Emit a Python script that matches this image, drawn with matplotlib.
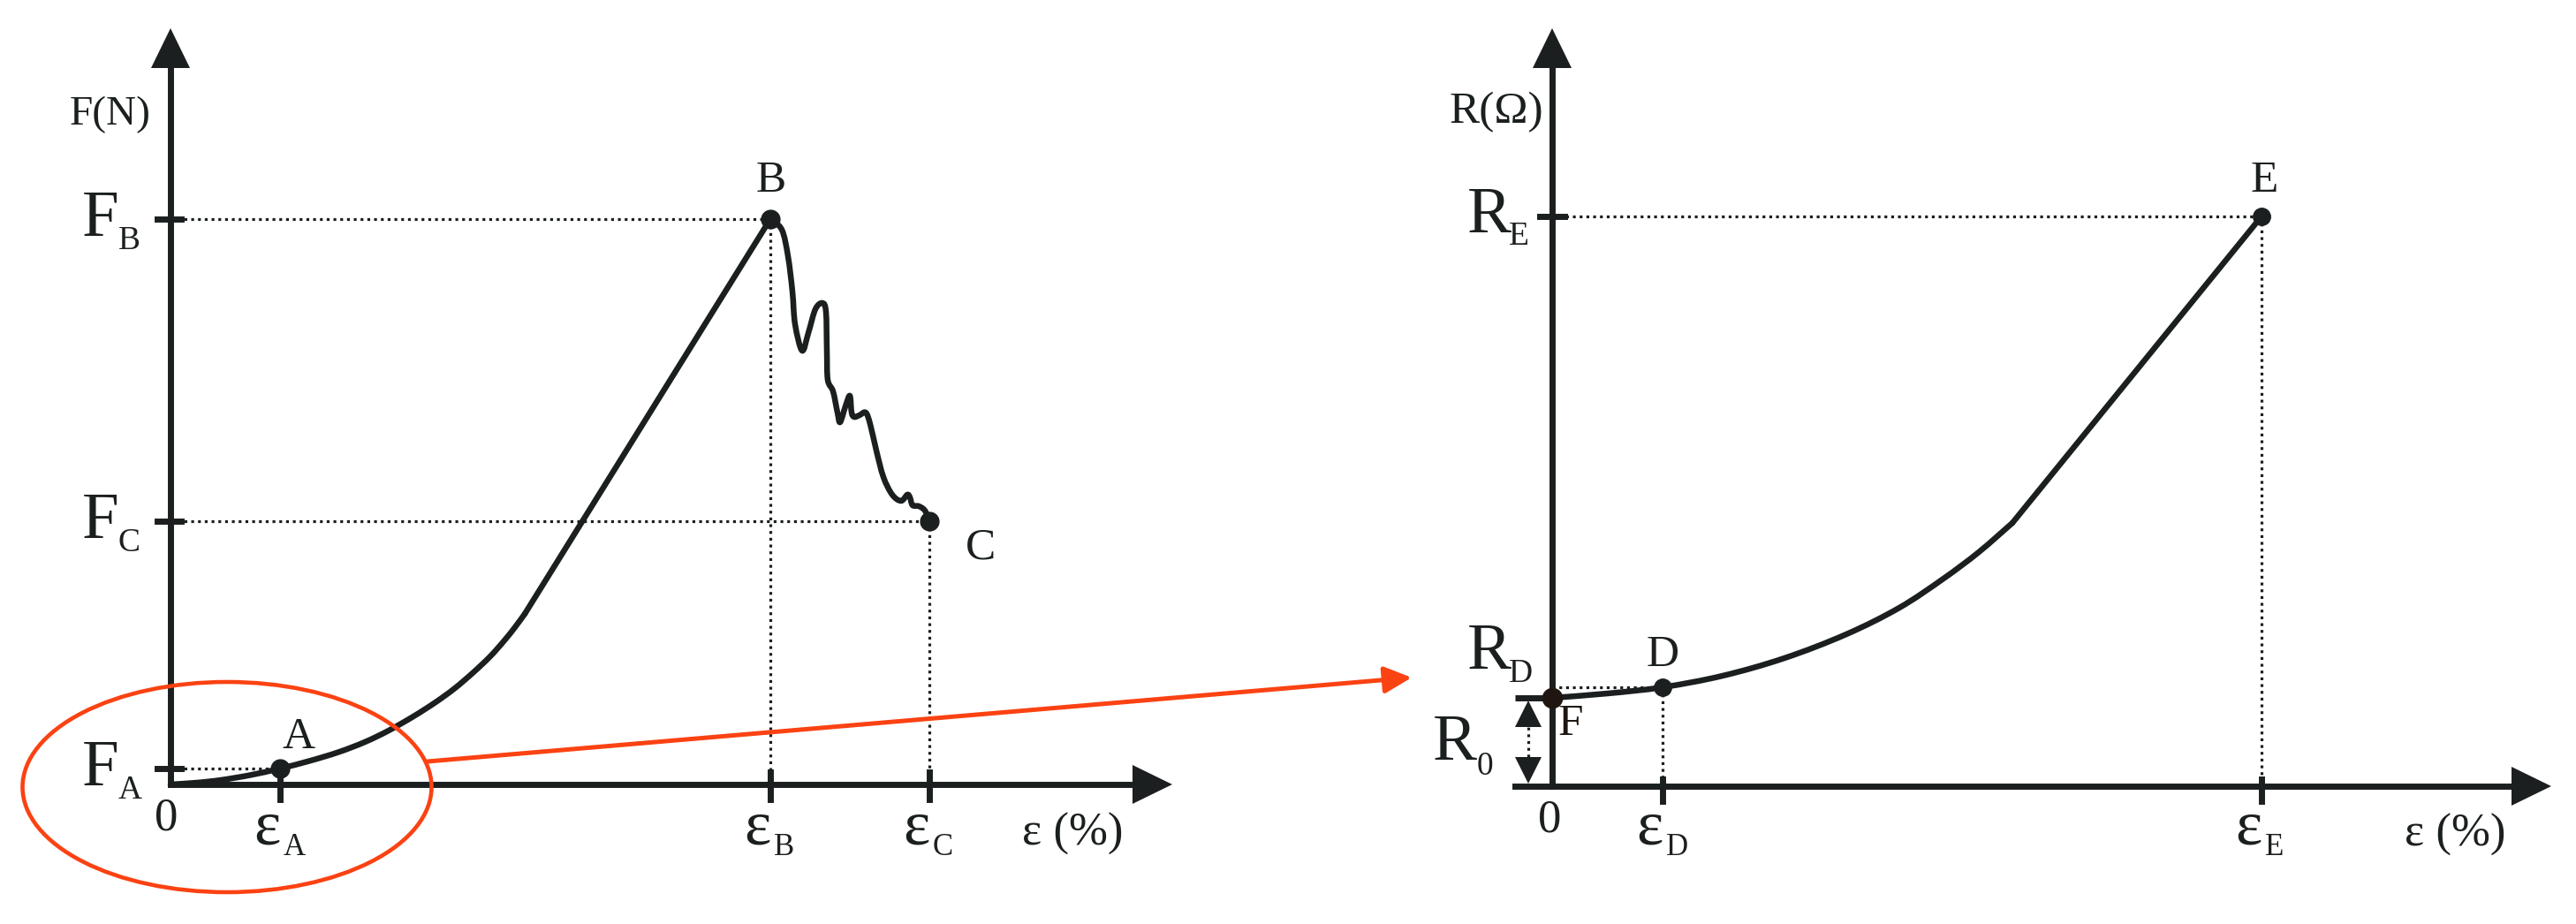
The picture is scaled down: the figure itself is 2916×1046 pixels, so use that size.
import matplotlib.pyplot as plt
from matplotlib.patches import Polygon, Ellipse, PathPatch
from matplotlib.path import Path

plt.rcParams['font.family'] = ['Liberation Serif', 'DejaVu Serif']

INK = '#1b1f20'
RED = '#fb4212'

# left panel: force vs strain (schematic units, origin at 0,0)
eps_left = [12.4, 67.9, 85.9]          # eps_A, eps_B, eps_C
force = [1.8, 64.0, 29.8]              # F_A, F_B, F_C
left_names = ['A', 'B', 'C']
rise_x = [0, 3.0, 5.7, 9.0, 12.4, 15.7, 19.0, 22.0, 24.7, 27.5, 30.0, 32.2,
          34.3, 36.2, 37.8, 39.0, 40.1, 67.9]
rise_y = [0, 0.2, 0.5, 1.05, 1.8, 2.65, 3.65, 4.8, 6.1, 7.7, 9.3, 10.9,
          12.7, 14.5, 16.3, 17.8, 19.3, 64.0]
drop_x = [67.9, 69.2, 69.9, 70.4, 70.7, 71.5, 72.2, 73.0, 73.8, 74.2, 74.3,
          74.4, 75.0, 75.5, 75.8, 76.4, 76.9, 77.1, 77.4, 78.0, 78.7, 79.2,
          79.9, 80.7, 81.7, 82.7, 83.4, 83.7, 84.0, 84.7, 85.4, 85.9]
drop_y = [64.0, 62.8, 59.8, 55.8, 52.1, 49.1, 51.1, 53.8, 54.5, 53.5, 49.1,
          45.8, 44.5, 42.1, 41.0, 42.8, 44.0, 42.1, 41.6, 41.8, 42.1, 40.8,
          37.8, 34.8, 32.8, 32.1, 32.8, 32.5, 31.6, 31.5, 31.0, 29.8]

# right panel: resistance vs strain
eps_right = [12.5, 80.3]               # eps_D, eps_E
res = [11.2, 64.5]                     # R_D, R_E
right_names = ['D', 'E']
r0 = 10.0
res_x = [0, 6.3, 12.5, 19.3, 26.3, 33.3, 39.3, 44.3, 48.3, 52.1, 80.3]
res_y = [10.0, 10.5, 11.2, 12.5, 14.5, 17.2, 20.2, 23.5, 26.5, 29.8, 64.5]

AX_LW = 5
CURVE_LW = 4.7
DOT = dict(linestyle=(0, (1, 1.4)), lw=2.3, color=INK, dash_capstyle='butt')
HEAD_L, HEAD_W = 4.5, 4.4


def smooth(xs, ys):
    # Catmull-Rom through the read points, drawn as cubic Bezier pieces
    pts = list(zip(xs, ys))
    verts, codes = [pts[0]], [Path.MOVETO]
    n = len(pts)
    for i in range(n - 1):
        p0, p1 = pts[max(i - 1, 0)], pts[i]
        p2, p3 = pts[i + 1], pts[min(i + 2, n - 1)]
        c1 = (p1[0] + (p2[0] - p0[0]) / 6, p1[1] + (p2[1] - p0[1]) / 6)
        c2 = (p2[0] - (p3[0] - p1[0]) / 6, p2[1] - (p3[1] - p1[1]) / 6)
        verts += [c1, c2, p2]
        codes += [Path.CURVE4] * 3
    return Path(verts, codes)


def smooth_line(ax, xs, ys):
    ax.add_patch(PathPatch(smooth(xs, ys), fill=False, edgecolor=INK,
                           lw=CURVE_LW, capstyle='round', joinstyle='round'))


def curve(ax, xs, ys, kink):
    smooth_line(ax, xs[:kink + 1], ys[:kink + 1])
    ax.plot(xs[kink:], ys[kink:], color=INK, lw=CURVE_LW, solid_capstyle='round')


def axes_arrows(ax, x0, xtip, ytip):
    ax.plot([x0, xtip - HEAD_L], [0, 0], color=INK, lw=AX_LW, solid_capstyle='projecting')
    ax.plot([0, 0], [0, ytip - HEAD_L], color=INK, lw=AX_LW, solid_capstyle='projecting')
    ax.add_patch(Polygon([[xtip, 0], [xtip - HEAD_L, HEAD_W / 2], [xtip - HEAD_L, -HEAD_W / 2]],
                         closed=True, color=INK, lw=0))
    ax.add_patch(Polygon([[0, ytip], [HEAD_W / 2, ytip - HEAD_L], [-HEAD_W / 2, ytip - HEAD_L]],
                         closed=True, color=INK, lw=0))


def sub_label(ax, x, y, main, sub, xs, ys, size, subsize):
    ax.text(x, y, main, fontsize=size, ha='left', va='baseline', color=INK)
    ax.text(xs, ys, sub, fontsize=subsize, ha='left', va='baseline', color=INK)


def eps_label(ax, x, base, sub):
    ax.text(x + 0.1, base, '\u03b5', fontsize=52, ha='right', va='baseline', color=INK)
    ax.text(x + 0.4, base - 1.35, sub, fontsize=25, ha='left', va='baseline', color=INK)


fig = plt.figure(figsize=(29.16, 10.46), dpi=100)

# ---- left panel
axl = fig.add_axes([0, 0, 1400 / 2916, 1])
axl.set_xlim(-19.3, 120.7)
axl.set_ylim(-15.8, 88.8)
axl.axis('off')
axes_arrows(axl, 0, 113.4, 85.6)

for e, f, n in zip(eps_left, force, left_names):
    axl.plot([0, e], [f, f], **DOT)
    axl.plot([e, e], [f, 0], **DOT)
    axl.plot([-1.5, 1.2], [f, f], color=INK, lw=AX_LW)
    top = f if n == 'A' else 1.4
    axl.plot([e, e], [top, -1.7], color=INK, lw=AX_LW)
    sub_label(axl, -10.0, f - 1.9, 'F', n, -5.9, f - 3.4, 54, 27)
    eps_label(axl, e, -6.7, n)

curve(axl, rise_x, rise_y, 16)
smooth_line(axl, drop_x, drop_y)
axl.plot(eps_left, force, 'o', color=INK, ms=15)

axl.text(-6.8, 75.8, 'F(N)', fontsize=34, ha='center', va='center', color=INK)
axl.text(-0.5, -3.9, '0', fontsize=38, ha='center', va='center', color=INK)
axl.text(102.1, -5.6, '\u03b5 (%)', fontsize=38, ha='center', va='center', color=INK)
axl.text(14.5, 5.3, 'A', fontsize=37, ha='center', va='center', color=INK)
axl.text(68.0, 68.3, 'B', fontsize=37, ha='center', va='center', color=INK)
axl.text(91.7, 26.8, 'C', fontsize=37, ha='center', va='center', color=INK)

# ---- right panel
axr = fig.add_axes([1450 / 2916, 0, 1466 / 2916, 1])
axr.set_xlim(-30.7, 115.9)
axr.set_ylim(-15.6, 89.0)
axr.axis('off')
axes_arrows(axr, -4.2, 113.1, 85.8)
axr.plot([-4.2, 0], [r0, r0], color=INK, lw=AX_LW, solid_capstyle='butt')

for e, r, n in zip(eps_right, res, right_names):
    axr.plot([0, e], [r, r], **DOT)
    axr.plot([e, e], [r, 0], **DOT)
    axr.plot([e, e], [0.8, -1.7], color=INK, lw=AX_LW)
    eps_label(axr, e, -6.5, n)

axr.plot([-1.4, 1.4], [res[1], res[1]], color=INK, lw=AX_LW)
sub_label(axr, -9.6, res[1] - 1.8, 'R', 'E', -4.9, res[1] - 3.2, 54, 27)
sub_label(axr, -9.6, res[0] + 2.1, 'R', 'D', -4.9, res[0] + 0.6, 54, 27)
sub_label(axr, -13.5, 3.0, 'R', '0', -8.5, 1.3, 54, 27)

# R0 double arrow
ax0 = -2.7
axr.add_patch(Polygon([[ax0, r0 - 0.3], [ax0 - 1.5, r0 - 3.3], [ax0 + 1.5, r0 - 3.3]],
                      closed=True, color=INK, lw=0))
axr.add_patch(Polygon([[ax0, 0.3], [ax0 - 1.5, 3.3], [ax0 + 1.5, 3.3]],
                      closed=True, color=INK, lw=0))
axr.plot([ax0, ax0], [3.3, r0 - 3.3], **DOT)

curve(axr, res_x, res_y, 9)
axr.plot(eps_right, res, 'o', color=INK, ms=14)
axr.plot([0], [r0], 'o', color='#1f1612', ms=16)

axr.text(-6.3, 76.3, 'R(\u03a9)', fontsize=37, ha='center', va='center', color=INK)
axr.text(-0.3, -3.8, '0', fontsize=38, ha='center', va='center', color=INK)
axr.text(102.2, -5.5, '\u03b5 (%)', fontsize=38, ha='center', va='center', color=INK)
axr.text(2.1, 7.0, 'F', fontsize=37, ha='center', va='center', color='#1f1612')
axr.text(12.5, 14.8, 'D', fontsize=37, ha='center', va='center', color=INK)
axr.text(80.6, 68.5, 'E', fontsize=37, ha='center', va='center', color=INK)

# ---- magnifier ellipse and arrow (figure pixels)
ov = fig.add_axes([0, 0, 1, 1])
ov.set_xlim(0, 2916)
ov.set_ylim(1046, 0)
ov.axis('off')
ov.add_patch(Ellipse((257, 891), 463, 238, fill=False, edgecolor=RED, lw=3.3))
ov.annotate('', xy=(1598, 767), xytext=(484, 862),
            arrowprops=dict(arrowstyle='-|>,head_length=0.47,head_width=0.23',
                            mutation_scale=40, color=RED, lw=3.6,
                            shrinkA=0, shrinkB=0))

fig.savefig('out.png', dpi=100)
